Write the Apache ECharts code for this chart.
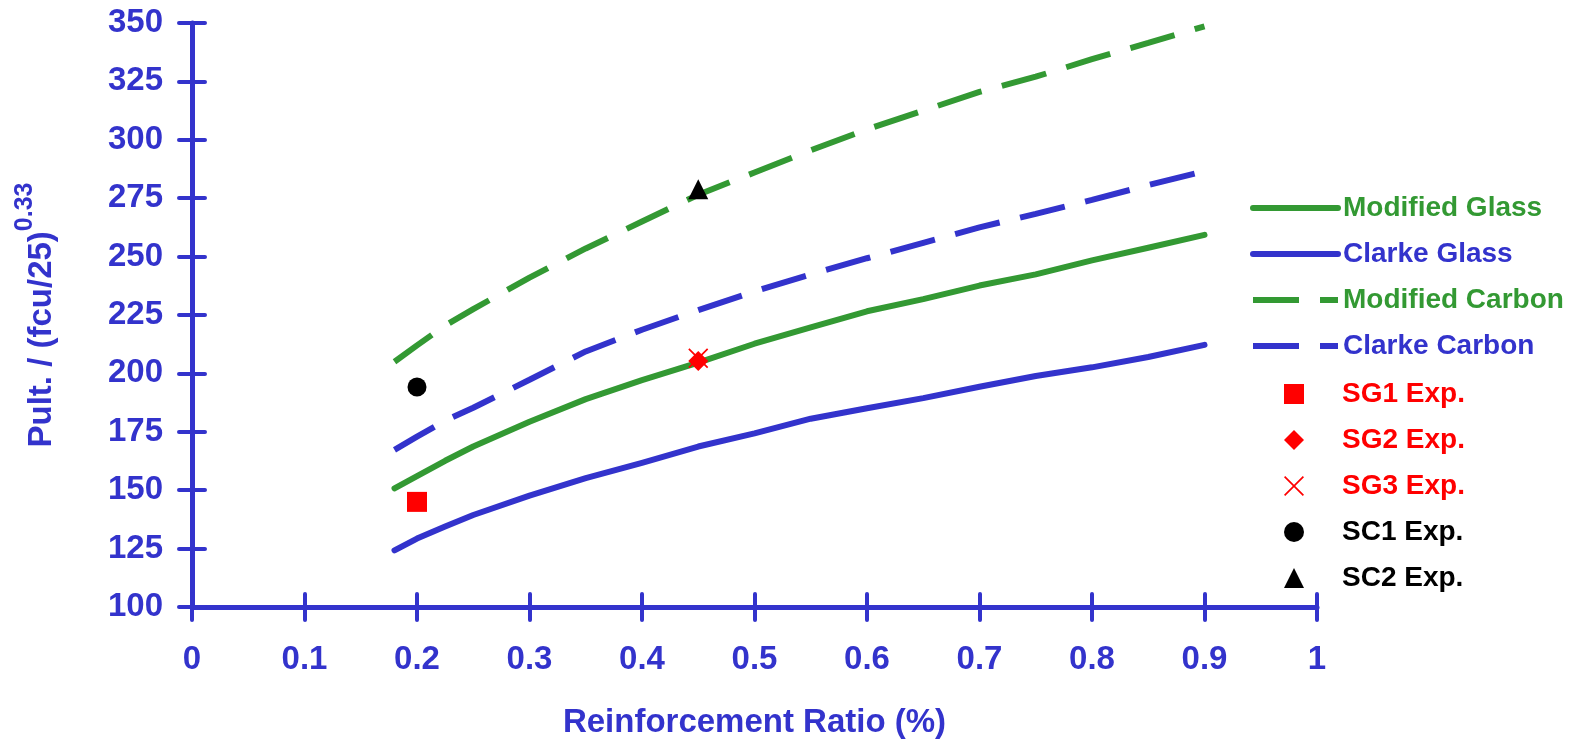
<!DOCTYPE html>
<html>
<head>
<meta charset="utf-8">
<script src="https://cdn.jsdelivr.net/npm/echarts@6/dist/echarts.min.js"></script>
<style>
html,body{margin:0;padding:0;background:#fff;}
#chart{width:1569px;height:744px;}
</style>
</head>
<body>
<div id="chart"></div>
<script>
// ---- data ----
const ratios = [0.18, 0.2, 0.225, 0.25, 0.3, 0.35, 0.4, 0.45, 0.5, 0.55, 0.6, 0.65, 0.7, 0.75, 0.8, 0.85, 0.9];
const modifiedGlass  = [150.8, 156, 162.6, 168.7, 179.3, 189, 197.1, 204.6, 212.7, 219.7, 226.6, 231.8, 237.6, 242.4, 248.4, 253.8, 259.3];
const clarkeGlass    = [124.2, 129.3, 134.5, 139.4, 147.7, 155.2, 161.7, 168.7, 174.3, 180.6, 185.1, 189.4, 194.3, 198.9, 202.6, 207.0, 212.2];
const modifiedCarbon = [205, 212, 220.5, 227.5, 241, 253.5, 265, 276.5, 286, 295.5, 304.5, 312.5, 320.5, 327, 334.5, 341.5, 348.6];
const clarkeCarbon   = [167.3, 172.9, 179.8, 185.3, 197.3, 209.4, 218.7, 227.1, 235.1, 242.4, 249.3, 255.9, 262.5, 268.3, 274.3, 280.6, 286.6];
const sg1 = [[0.2, 145]];
const sg2 = [[0.45, 205.3]];
const sg3 = [[0.45, 206.5]];
const sc1 = [[0.2, 194.2]];
const sc2 = [[0.45, 278.8]];
const xTicks = {min: 0, max: 1, interval: 0.1};
const yTicks = {min: 100, max: 350, interval: 25};

const BLUE = '#3333CC', GREEN = '#339933', RED = '#FF0000', BLACK = '#000000';
const FONT = 'Liberation Sans, Arial, sans-serif';
const xPath = 'path://M0,6L6,0L50,44L94,0L100,6L56,50L100,94L94,100L50,56L6,100L0,94L44,50Z';
const LW = 6;

function pairs(xs, ys) { return xs.map((x, i) => [x, ys[i]]); }

const chart = echarts.init(document.getElementById('chart'), null, {renderer: 'canvas'});

const axisColor = BLUE;
const legendText = {fontSize: 28, fontWeight: 'bold', fontFamily: FONT, lineHeight: 28};
const option = {
  animation: false,
  backgroundColor: '#ffffff',
  grid: {left: 192, top: 23, right: 252, bottom: 136, containLabel: false},
  xAxis: [{
    type: 'value', min: xTicks.min, max: xTicks.max, interval: xTicks.interval,
    name: 'Reinforcement Ratio (%)', nameLocation: 'middle', nameGap: 99,
    nameTextStyle: {color: axisColor, fontSize: 33, fontWeight: 'bold', fontFamily: FONT},
    axisLine: {show: true, onZero: false, lineStyle: {color: axisColor, width: 5, cap: 'round'}},
    axisTick: {show: true, length: 13, lineStyle: {color: axisColor, width: 4, cap: 'round'}},
    axisLabel: {color: axisColor, fontSize: 33, fontWeight: 'bold', fontFamily: FONT, margin: 36},
    splitLine: {show: false}
  }, {
    type: 'value', min: xTicks.min, max: xTicks.max, interval: xTicks.interval, position: 'bottom',
    axisLine: {show: false},
    axisTick: {show: true, inside: true, length: 13, lineStyle: {color: axisColor, width: 4, cap: 'round'}},
    axisLabel: {show: false}, splitLine: {show: false}
  }],
  yAxis: [{
    type: 'value', min: yTicks.min, max: yTicks.max, interval: yTicks.interval,
    name: '{a|Pult. / (fcu/25)}{b|0.33}', nameLocation: 'middle', nameRotate: 90, nameGap: 134,
    nameTextStyle: {
      color: axisColor, fontWeight: 'bold', fontFamily: FONT,
      rich: {
        a: {color: axisColor, fontSize: 33, fontWeight: 'bold', fontFamily: FONT, lineHeight: 45, verticalAlign: 'bottom'},
        b: {color: axisColor, fontSize: 25, fontWeight: 'bold', fontFamily: FONT, lineHeight: 25, verticalAlign: 'top'}
      }
    },
    axisLine: {show: true, onZero: false, lineStyle: {color: axisColor, width: 5, cap: 'round'}},
    axisTick: {show: true, length: 13, lineStyle: {color: axisColor, width: 4, cap: 'round'}},
    axisLabel: {color: axisColor, fontSize: 33, fontWeight: 'bold', fontFamily: FONT, margin: 29},
    splitLine: {show: false}
  }, {
    type: 'value', min: yTicks.min, max: yTicks.max, interval: yTicks.interval, position: 'left',
    axisLine: {show: false},
    axisTick: {show: true, inside: true, length: 13, lineStyle: {color: axisColor, width: 4, cap: 'round'}},
    axisLabel: {show: false}, splitLine: {show: false}
  }],
  legend: [{
    orient: 'vertical', left: 1245, top: 189,
    itemWidth: 85, itemHeight: 20, itemGap: 18,
    selectedMode: false,
    textStyle: legendText,
    data: [
      {name: 'Modified Glass', itemStyle: {opacity: 0}, lineStyle: {width: LW}, textStyle: {color: GREEN}},
      {name: 'Clarke Glass', itemStyle: {opacity: 0}, lineStyle: {width: LW}, textStyle: {color: BLUE}},
      {name: 'Modified Carbon', itemStyle: {opacity: 0}, lineStyle: {width: LW}, textStyle: {color: GREEN}},
      {name: 'Clarke Carbon', itemStyle: {opacity: 0}, lineStyle: {width: LW}, textStyle: {color: BLUE}}
    ]
  }, {
    orient: 'vertical', left: 1279, top: 375,
    itemWidth: 20, itemHeight: 20, itemGap: 18,
    selectedMode: false,
    formatter: '{p| }{name}',
    textStyle: Object.assign({}, legendText, {rich: {p: {width: 33, fontSize: 28, lineHeight: 28}}}),
    data: [
      {name: 'SG1 Exp.', icon: 'rect', textStyle: {color: RED}},
      {name: 'SG2 Exp.', icon: 'diamond', textStyle: {color: RED}},
      {name: 'SG3 Exp.', icon: xPath, textStyle: {color: RED}},
      {name: 'SC1 Exp.', icon: 'circle', textStyle: {color: BLACK}},
      {name: 'SC2 Exp.', icon: 'triangle', textStyle: {color: BLACK}}
    ]
  }],
  series: [
    {name: 'Modified Glass', type: 'line', data: pairs(ratios, modifiedGlass), symbol: 'none', smooth: false,
     lineStyle: {color: GREEN, width: LW, cap: 'round', join: 'round'}, itemStyle: {color: GREEN}},
    {name: 'Clarke Glass', type: 'line', data: pairs(ratios, clarkeGlass), symbol: 'none',
     lineStyle: {color: BLUE, width: LW, cap: 'round', join: 'round'}, itemStyle: {color: BLUE}},
    {name: 'Modified Carbon', type: 'line', data: pairs(ratios, modifiedCarbon), symbol: 'none',
     lineStyle: {color: GREEN, width: LW, type: [46, 21]}, itemStyle: {color: GREEN}},
    {name: 'Clarke Carbon', type: 'line', data: pairs(ratios, clarkeCarbon), symbol: 'none',
     lineStyle: {color: BLUE, width: LW, type: [46, 21]}, itemStyle: {color: BLUE}},
    {name: 'SG3 Exp.', type: 'scatter', data: sg3, symbol: xPath, symbolSize: 20, itemStyle: {color: RED, opacity: 1}, z: 5},
    {name: 'SG1 Exp.', type: 'scatter', data: sg1, symbol: 'rect', symbolSize: 20, itemStyle: {color: RED, opacity: 1}, z: 5},
    {name: 'SG2 Exp.', type: 'scatter', data: sg2, symbol: 'diamond', symbolSize: 20, itemStyle: {color: RED, opacity: 1}, z: 6},
    {name: 'SC1 Exp.', type: 'scatter', data: sc1, symbol: 'circle', symbolSize: 19, itemStyle: {color: BLACK, opacity: 1}, z: 5},
    {name: 'SC2 Exp.', type: 'scatter', data: sc2, symbol: 'triangle', symbolSize: 20, itemStyle: {color: BLACK, opacity: 1}, z: 5}
  ]
};
chart.setOption(option);
</script>
</body>
</html>
